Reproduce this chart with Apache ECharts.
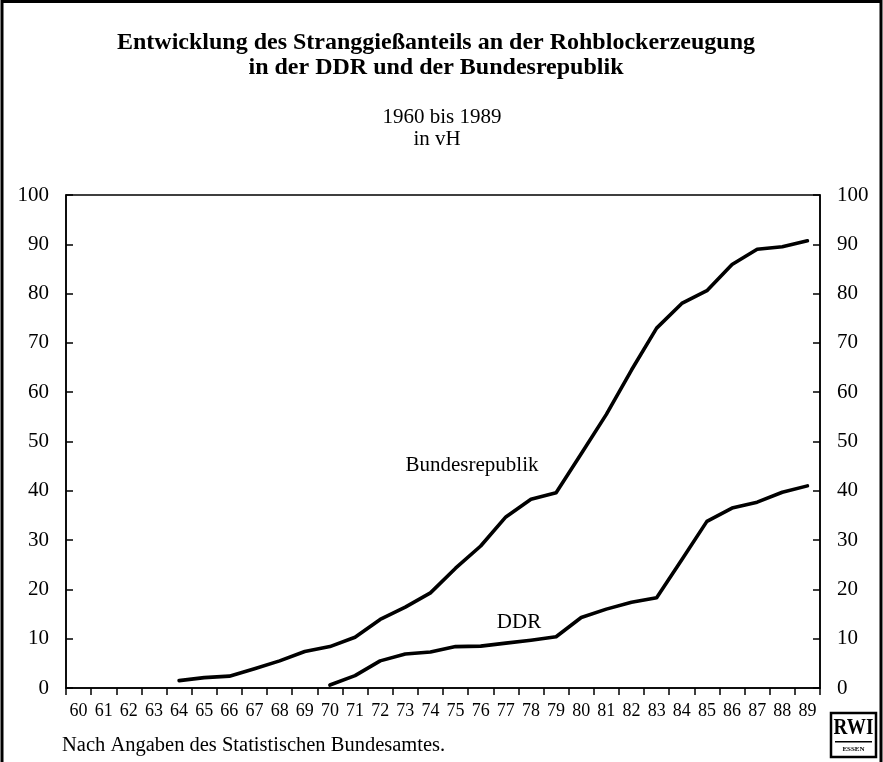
<!DOCTYPE html>
<html>
<head>
<meta charset="utf-8">
<script src="https://cdn.jsdelivr.net/npm/echarts@6/dist/echarts.min.js"></script>
<style>
  html, body { margin: 0; padding: 0; background: #fff; }
  #chart { width: 883px; height: 762px; }
</style>
</head>
<body>
<div id="chart"></div>
<script>
// Jahre 1960–1989 (zweistellig beschriftet)
const years = ['60','61','62','63','64','65','66','67','68','69','70','71','72','73','74',
               '75','76','77','78','79','80','81','82','83','84','85','86','87','88','89'];

// Stranggießanteil an der Rohblockerzeugung in vH
const brd = [null, null, null, null, 1.5, 2.1, 2.4, 3.9, 5.5, 7.4, 8.4, 10.3, 13.9, 16.4, 19.3,
             24.3, 28.8, 34.7, 38.3, 39.6, 47.5, 55.5, 64.5, 73.0, 78.0, 80.6, 85.9, 89.0, 89.5, 90.7];
const ddr = [null, null, null, null, null, null, null, null, null, null, 0.6, 2.5, 5.5, 6.9, 7.3,
             8.4, 8.5, 9.1, 9.7, 10.4, 14.3, 16.0, 17.4, 18.3, 26.0, 33.8, 36.5, 37.7, 39.7, 41.0];

const serif = "'Liberation Serif', 'Times New Roman', serif";

const chart = echarts.init(document.getElementById('chart'), null, { renderer: 'canvas' });

const axisY = (pos, align) => ({
  type: 'value',
  position: pos,
  min: 0, max: 100, interval: 10,
  axisLine: { show: true, lineStyle: { color: '#000', width: 1.5 } },
  axisTick: { show: true, inside: true, length: 7, lineStyle: { color: '#000', width: 1.5 } },
  axisLabel: { color: '#000', fontFamily: serif, fontSize: 21, margin: 17, align: align },
  splitLine: { show: false }
});

chart.setOption({
  animation: false,
  backgroundColor: '#fff',
  grid: {
    left: 66, right: 63, top: 195, bottom: 74,
    show: true, borderColor: '#000', borderWidth: 1.5, backgroundColor: 'transparent'
  },
  xAxis: {
    type: 'category',
    data: years,
    boundaryGap: true,
    axisLine: { show: true, lineStyle: { color: '#000', width: 1.5 } },
    axisTick: { show: true, length: 7, alignWithLabel: false, interval: 0, lineStyle: { color: '#000', width: 1.5 } },
    axisLabel: { color: '#000', fontFamily: serif, fontSize: 18, margin: 14, interval: 0, hideOverlap: false },
    splitLine: { show: false }
  },
  yAxis: [axisY('left', 'right'), axisY('right', 'left')],
  series: [
    {
      name: 'Bundesrepublik', type: 'line', data: brd, yAxisIndex: 0,
      symbol: 'none', connectNulls: false,
      lineStyle: { color: '#000', width: 3.6, join: 'round', cap: 'round' }
    },
    {
      name: 'DDR', type: 'line', data: ddr, yAxisIndex: 0,
      symbol: 'none', connectNulls: false,
      lineStyle: { color: '#000', width: 3.6, join: 'round', cap: 'round' }
    }
  ],
  graphic: [
    // Rahmen (links, oben, rechts)
    { type: 'polyline', silent: true,
      shape: { points: [[2, 762], [2, 1.5], [881, 1.5], [881, 762]] },
      style: { stroke: '#000', lineWidth: 3, fill: null } },
    // Überschrift
    { type: 'text', x: 436, y: 43, style: {
        text: 'Entwicklung des Stranggießanteils an der Rohblockerzeugung',
        font: 'bold 24px ' + serif, fill: '#000', align: 'center', verticalAlign: 'middle' } },
    { type: 'text', x: 436, y: 68, style: {
        text: 'in der DDR und der Bundesrepublik',
        font: 'bold 24px ' + serif, fill: '#000', align: 'center', verticalAlign: 'middle' } },
    { type: 'text', x: 442, y: 117, style: {
        text: '1960 bis 1989',
        font: '21px ' + serif, fill: '#000', align: 'center', verticalAlign: 'middle' } },
    { type: 'text', x: 437, y: 139, style: {
        text: 'in vH',
        font: '21px ' + serif, fill: '#000', align: 'center', verticalAlign: 'middle' } },
    // Reihenbeschriftungen
    { type: 'text', x: 472, y: 465, style: {
        text: 'Bundesrepublik', font: '21px ' + serif, fill: '#000',
        align: 'center', verticalAlign: 'middle' } },
    { type: 'text', x: 519, y: 622, style: {
        text: 'DDR', font: '21px ' + serif, fill: '#000',
        align: 'center', verticalAlign: 'middle' } },
    // Quelle
    { type: 'text', x: 62, y: 746, style: {
        text: 'Nach Angaben des Statistischen Bundesamtes.', font: '20.5px ' + serif,
        fill: '#000', align: 'left', verticalAlign: 'middle' } },
    // RWI-Signet
    { type: 'rect', shape: { x: 831, y: 713, width: 45, height: 44 },
      style: { stroke: '#000', lineWidth: 2.5, fill: '#fff' } },
    { type: 'text', x: 853.5, y: 728, scaleX: 0.8, style: {
        text: 'RWI', font: 'bold 24px ' + serif, fill: '#000',
        align: 'center', verticalAlign: 'middle' } },
    { type: 'rect', shape: { x: 835, y: 741, width: 37, height: 1.5 },
      style: { fill: '#000' } },
    { type: 'text', x: 853.5, y: 749, style: {
        text: 'ESSEN', font: 'bold 7px ' + serif, fill: '#000',
        align: 'center', verticalAlign: 'middle' } }
  ]
});
</script>
</body>
</html>
